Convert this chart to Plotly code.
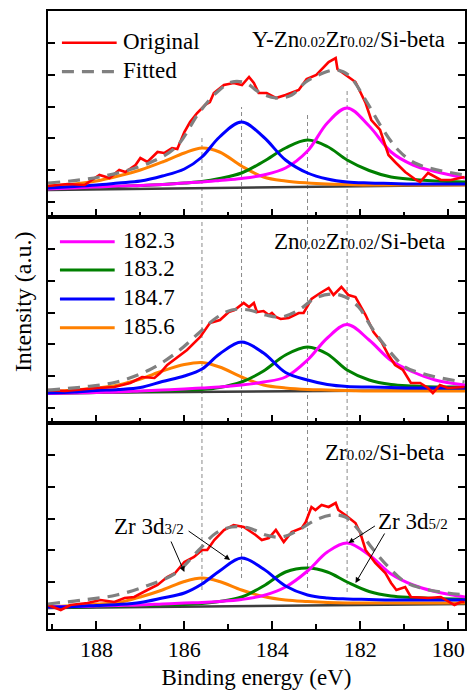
import plotly.graph_objects as go
from plotly.subplots import make_subplots

# ---------------- data (intensity in a.u.) ----------------
GRID = [189.1, 188.5, 188, 187.5, 187, 186.5, 186, 185.6, 185.2, 184.7, 184.2,
        183.7, 183.2, 182.75, 182.3, 181.8, 181.3, 180.8, 180.3, 179.62]
BASE_X = [189.1, 179.62]
PEAK_LABELS = ["182.3", "183.2", "184.7", "185.6"]
PEAK_CENTERS = [182.3, 183.2, 184.7, 185.6]
PANEL_NAMES = ["Y-Zn0.02Zr0.02/Si-beta", "Zn0.02Zr0.02/Si-beta", "Zr0.02/Si-beta"]

# Panel 1: Y-Zn0.02Zr0.02/Si-beta
red1_x = [189.1, 188.65, 188.27, 187.93, 187.70, 187.48, 187.34, 187.11, 187.00, 186.84, 186.61,
          186.46, 186.28, 186.16, 186.0, 185.87, 185.71, 185.53, 185.42, 185.33, 185.10, 184.88,
          184.69, 184.53, 184.42, 184.31, 184.13, 183.92, 183.70, 183.40, 183.22, 183.0, 182.72,
          182.56, 182.52, 182.27, 182.11, 181.88, 181.75, 181.55, 181.36, 181.21, 180.98, 180.73,
          180.64, 180.46, 180.17, 179.94, 179.63]
red1_y = [3.1, 3.3, 3.2, 4.2, 3.9, 4.7, 4.5, 5.2, 5.9, 5.5, 6.5,
          6.4, 6.9, 6.8, 8.5, 9.5, 10.4, 11.2, 11.5, 12.4, 13.2, 13.4,
          13.2, 14.0, 13.4, 12.4, 12.4, 11.9, 12.2, 12.7, 13.8, 14.2, 15.5,
          15.9, 14.8, 14.0, 13.5, 11.4, 9.7, 8.7, 6.2, 5.5, 4.5, 3.7,
          3.5, 4.4, 3.7, 3.7, 4.0]
fit1_x = [189.1, 187.93, 186.80, 186.19, 185.67, 185.28, 184.92, 184.60, 184.31, 183.92, 183.56,
          183.24, 182.95, 182.56, 182.27, 181.88, 181.52, 181.14, 180.76, 180.24, 179.63]
fit1_y = [3.4, 4.0, 5.4, 7.0, 10.4, 12.4, 13.5, 13.4, 12.5, 11.9, 12.2,
          13.5, 14.2, 14.7, 14.2, 11.7, 9.0, 6.7, 5.4, 4.7, 4.2]
mag1 = [2.8, 2.9, 3.0, 3.1, 3.15, 3.25, 3.4, 3.5, 3.65, 3.85, 4.2, 4.9, 6.6, 9.4, 10.9, 9.1, 6.5, 5.2, 4.55, 3.9]
grn1 = [2.8, 2.9, 3.0, 3.05, 3.15, 3.25, 3.4, 3.55, 3.85, 4.4, 5.55, 6.9, 7.7, 7.05, 5.7, 4.65, 4.0, 3.75, 3.6, 3.5]
blu1 = [2.9, 3.05, 3.2, 3.4, 3.6, 4.1, 4.8, 6.0, 8.0, 9.5, 8.0, 5.7, 4.4, 3.8, 3.5, 3.4, 3.35, 3.3, 3.3, 3.3]
org1 = [3.1, 3.3, 3.6, 4.1, 4.7, 5.5, 6.4, 6.9, 6.5, 5.1, 4.0, 3.6, 3.4, 3.3, 3.25, 3.2, 3.2, 3.2, 3.2, 3.2]
base1 = [2.7, 3.2]

# Panel 2: Zn0.02Zr0.02/Si-beta
red2_x = [189.1, 188.72, 187.97, 187.59, 187.23, 186.96, 186.68, 186.55, 186.39, 186.16, 185.94,
          185.64, 185.42, 185.19, 184.99, 184.86, 184.65, 184.53, 184.42, 184.35, 184.20, 184.08,
          184.01, 183.92, 183.81, 183.63, 183.40, 183.29, 183.11, 182.91, 182.72, 182.61, 182.43,
          182.27, 182.11, 181.88, 181.70, 181.52, 181.36, 181.21, 181.03, 180.85, 180.64, 180.46,
          180.35, 180.19, 180.01, 179.63]
red2_y = [3.3, 3.2, 3.5, 3.6, 4.0, 4.6, 4.5, 5.0, 5.8, 6.6, 7.3,
          8.6, 10.0, 10.3, 11.1, 11.3, 12.0, 11.6, 12.0, 11.1, 11.2, 10.8,
          11.0, 10.6, 10.4, 10.5, 11.0, 11.0, 12.4, 13.0, 13.5, 12.8, 13.6,
          12.8, 12.6, 10.8, 9.1, 8.1, 6.8, 5.8, 5.3, 4.0, 4.0, 3.5,
          3.0, 3.8, 3.5, 3.6]
fit2_x = [189.1, 188.31, 187.54, 186.80, 186.19, 185.67, 185.28, 184.92, 184.53, 184.15, 183.79,
          183.40, 183.02, 182.65, 182.34, 182.04, 181.75, 181.36, 180.98, 180.62, 180.17, 179.63]
fit2_y = [3.3, 3.6, 4.1, 5.3, 7.0, 9.0, 10.5, 11.3, 11.3, 10.8, 10.6,
          11.3, 12.5, 12.9, 12.6, 11.6, 9.6, 7.3, 5.6, 5.0, 4.5, 4.1]
mag2 = [2.95, 3.0, 3.05, 3.1, 3.2, 3.3, 3.4, 3.5, 3.6, 3.8, 4.1, 4.6, 6.3, 8.5, 9.85, 8.3, 6.25, 5.1, 4.3, 3.8]
grn2 = [2.95, 3.0, 3.05, 3.1, 3.15, 3.2, 3.3, 3.35, 3.55, 4.1, 5.2, 6.8, 7.6, 6.9, 5.3, 4.3, 3.85, 3.7, 3.6, 3.6]
blu2 = [3.0, 3.1, 3.25, 3.35, 3.55, 4.15, 4.7, 5.4, 6.9, 8.1, 7.0, 5.05, 4.3, 3.85, 3.65, 3.6, 3.55, 3.5, 3.5, 3.5]
org2 = [3.1, 3.3, 3.5, 3.8, 4.4, 5.2, 5.85, 6.05, 5.6, 4.6, 3.8, 3.5, 3.35, 3.3, 3.25, 3.2, 3.2, 3.2, 3.2, 3.2]
base2 = [3.0, 3.3]

# Panel 3: Zr0.02/Si-beta
red3_x = [189.1, 188.81, 188.59, 188.20, 187.91, 187.59, 187.36, 187.14, 186.84, 186.61, 186.39,
          186.21, 186.0, 185.78, 185.60, 185.48, 185.32, 185.10, 184.88, 184.65, 184.38, 184.24,
          184.08, 183.92, 183.74, 183.56, 183.33, 183.24, 183.11, 183.02, 182.88, 182.72, 182.56,
          182.50, 182.34, 182.11, 182.0, 181.88, 181.66, 181.43, 181.30, 181.18, 180.98, 180.85,
          180.46, 180.17, 179.86, 179.72, 179.63]
red3_y = [2.4, 1.9, 2.4, 2.6, 2.9, 2.7, 3.1, 3.2, 3.9, 4.4, 5.2,
          5.6, 6.7, 7.2, 7.9, 7.9, 8.9, 9.9, 10.4, 10.2, 9.4, 8.9,
          9.1, 9.9, 8.7, 9.7, 10.1, 10.7, 12.2, 11.9, 12.4, 12.2, 12.6,
          11.9, 11.4, 10.6, 9.6, 7.9, 6.6, 5.6, 4.6, 3.9, 4.2, 3.2,
          3.1, 3.2, 2.4, 2.7, 2.7]
fit3_x = fit2_x
fit3_y = [2.5, 2.9, 3.4, 4.4, 5.6, 7.9, 9.6, 10.2, 10.1, 9.4, 9.2,
          9.9, 10.9, 11.4, 11.2, 9.9, 8.2, 6.2, 4.7, 4.1, 3.7, 3.4]
mag3 = [2.2, 2.25, 2.3, 2.35, 2.4, 2.5, 2.6, 2.65, 2.75, 2.95, 3.35, 4.2, 5.8, 7.7, 8.6, 7.4, 5.5, 4.4, 3.75, 3.2]
grn3 = [2.15, 2.2, 2.25, 2.3, 2.35, 2.4, 2.45, 2.55, 2.75, 3.2, 4.3, 5.7, 6.1, 5.7, 4.7, 3.75, 3.3, 3.15, 3.05, 3.0]
blu3 = [2.2, 2.25, 2.35, 2.45, 2.65, 3.1, 3.6, 4.5, 5.8, 7.1, 6.0, 4.3, 3.4, 3.1, 3.0, 2.95, 2.9, 2.9, 2.9, 2.9]
org3 = [2.2, 2.35, 2.5, 2.65, 3.2, 3.9, 4.75, 5.1, 4.75, 3.9, 3.25, 2.9, 2.75, 2.65, 2.6, 2.6, 2.6, 2.6, 2.6, 2.6]
base3 = [2.1, 2.5]

# ---------------- styling ----------------
FONT = "Liberation Serif"
C_RED, C_FIT, C_BASE = "#FF0000", "#808080", "#3c3c3c"
C_MAG, C_GRN, C_BLU, C_ORG = "#FF00FF", "#008000", "#0000FF", "#FF8000"
PEAK_COLORS = [C_MAG, C_GRN, C_BLU, C_ORG]

W, H = 469, 690
ML, MR, MT, MB = 48, 2, 11, 61
PW, PH = W - ML - MR, H - MT - MB


def px(xp):  # pixel -> paper x
    return (xp - ML) / PW


def py(yp):  # pixel -> paper y
    return (H - MB - yp) / PH


fig = make_subplots(rows=3, cols=1, shared_xaxes=True, vertical_spacing=0)

panels = [
    (red1_x, red1_y, fit1_x, fit1_y, [mag1, grn1, blu1, org1], base1),
    (red2_x, red2_y, fit2_x, fit2_y, [mag2, grn2, blu2, org2], base2),
    (red3_x, red3_y, fit3_x, fit3_y, [mag3, grn3, blu3, org3], base3),
]

for i, (rx, ry, fx, fy, comps, base) in enumerate(panels, start=1):
    fig.add_trace(go.Scatter(x=BASE_X, y=base, mode="lines", line=dict(color=C_BASE, width=2.5),
                             showlegend=False, name="Baseline"), row=i, col=1)
    # draw order: orange, green, magenta, blue
    for k in [3, 1, 0, 2]:
        fig.add_trace(go.Scatter(x=GRID, y=comps[k], mode="lines",
                                 line=dict(color=PEAK_COLORS[k], width=3, shape="spline", smoothing=1.0),
                                 showlegend=False, name=PEAK_LABELS[k]), row=i, col=1)
    fig.add_trace(go.Scatter(x=rx, y=ry, mode="lines", line=dict(color=C_RED, width=2.6),
                             showlegend=False, name="Original"), row=i, col=1)
    fig.add_trace(go.Scatter(x=fx, y=fy, mode="lines",
                             line=dict(color=C_FIT, width=3.2, dash="12px,8px", shape="spline", smoothing=1.0),
                             showlegend=False, name="Fitted"), row=i, col=1)

for i in range(1, 4):
    fig.update_xaxes(range=[189.1, 179.62], showline=True, linecolor="black", linewidth=2, mirror=True,
                     ticks="inside", tick0=0, dtick=2, ticklen=8, tickwidth=1.8, tickcolor="black",
                     minor=dict(ticks="inside", dtick=1, ticklen=5, tickwidth=1.8, tickcolor="black"),
                     showgrid=False, zeroline=False, showticklabels=(i == 3),
                     tickfont=dict(family=FONT, size=22, color="black"), row=i, col=1)
    fig.update_yaxes(range=[0, 20.6], showline=True, linecolor="black", linewidth=2, mirror="ticks",
                     ticks="inside", tick0=1.5, dtick=3.18, ticklen=7, tickwidth=1.8, tickcolor="black",
                     showgrid=False, zeroline=False, showticklabels=False, row=i, col=1)

fig.update_xaxes(title=dict(text="Binding energy (eV)", font=dict(family=FONT, size=23, color="black"),
                            standoff=7), row=3, col=1)

shapes = []
# vertical dotted guides at the peak centres
guide_spans = {185.6: (137, 590), 184.7: (107, 578), 183.2: (115, 588), 182.3: (89, 592)}
for c in PEAK_CENTERS:
    y_top, y_bot = guide_spans[c]
    shapes.append(dict(type="line", xref="x", yref="paper", x0=c, x1=c, y0=py(y_bot), y1=py(y_top),
                       line=dict(color="#8a8a8a", width=1, dash="4px,3px"), layer="below"))

annotations = []
small = '<span style="font-size:15px">{}</span>'


def fmt_name(name):
    return name.replace("0.02", small.format("0.02"))


# panel titles
for name, yc in zip(PANEL_NAMES, [39, 242, 452]):
    annotations.append(dict(text=fmt_name(name), xref="paper", yref="paper", x=px(449), y=py(yc),
                            xanchor="right", yanchor="middle", showarrow=False,
                            font=dict(family=FONT, size=23, color="black")))

# legend panel 1
leg1 = [("Original", C_RED, "solid", 2.6, 42.7), ("Fitted", C_FIT, "12px,8px", 3.2, 71.7)]
for txt, col, dash, w, yy in leg1:
    shapes.append(dict(type="line", xref="paper", yref="paper", x0=px(62), x1=px(117), y0=py(yy), y1=py(yy),
                       line=dict(color=col, width=w, dash=dash)))
    annotations.append(dict(text=txt, xref="paper", yref="paper", x=px(121), y=py(yy - 1.5),
                            xanchor="left", yanchor="middle", showarrow=False,
                            font=dict(family=FONT, size=23, color="black")))

# legend panel 2
for k, yy in enumerate([241.7, 270, 299, 327.7]):
    shapes.append(dict(type="line", xref="paper", yref="paper", x0=px(60), x1=px(115), y0=py(yy), y1=py(yy),
                       line=dict(color=PEAK_COLORS[k], width=3)))
    annotations.append(dict(text=PEAK_LABELS[k], xref="paper", yref="paper", x=px(121), y=py(yy - 1.5),
                            xanchor="left", yanchor="middle", showarrow=False,
                            font=dict(family=FONT, size=23, color="black")))

# y-axis title
annotations.append(dict(text="Intensity (a.u.)", xref="paper", yref="paper", x=px(23), y=py(302),
                        xanchor="center", yanchor="middle", textangle=-90, showarrow=False,
                        font=dict(family=FONT, size=24, color="black")))

# Zr 3d labels and arrows (panel 3)
annotations.append(dict(text='Zr 3d<span style="font-size:15px">3/2</span>', xref="x3", yref="y3",
                        x=186.80, y=10.3, xanchor="center", yanchor="middle", showarrow=False,
                        font=dict(family=FONT, size=23, color="black")))
annotations.append(dict(text='Zr 3d<span style="font-size:15px">5/2</span>', xref="x3", yref="y3",
                        x=180.80, y=10.8, xanchor="center", yanchor="middle", showarrow=False,
                        font=dict(family=FONT, size=23, color="black")))
for hx, hy, axp, ayp in [(186.0, 5.7, -14, -32), (184.96, 6.9, -43, -30),
                         (182.27, 8.6, 28, -18), (182.11, 4.6, 30, -51)]:
    annotations.append(dict(text="", xref="x3", yref="y3", x=hx, y=hy, ax=axp, ay=ayp,
                            showarrow=True, arrowhead=2, arrowsize=1.1, arrowwidth=1,
                            arrowcolor="black", standoff=0, startstandoff=0))

fig.update_layout(width=W, height=H, margin=dict(l=ML, r=MR, t=MT, b=MB),
                  paper_bgcolor="white", plot_bgcolor="rgba(0,0,0,0)",
                  font=dict(family=FONT, color="black"), showlegend=False,
                  shapes=shapes, annotations=annotations)

fig.write_html("out.html")
